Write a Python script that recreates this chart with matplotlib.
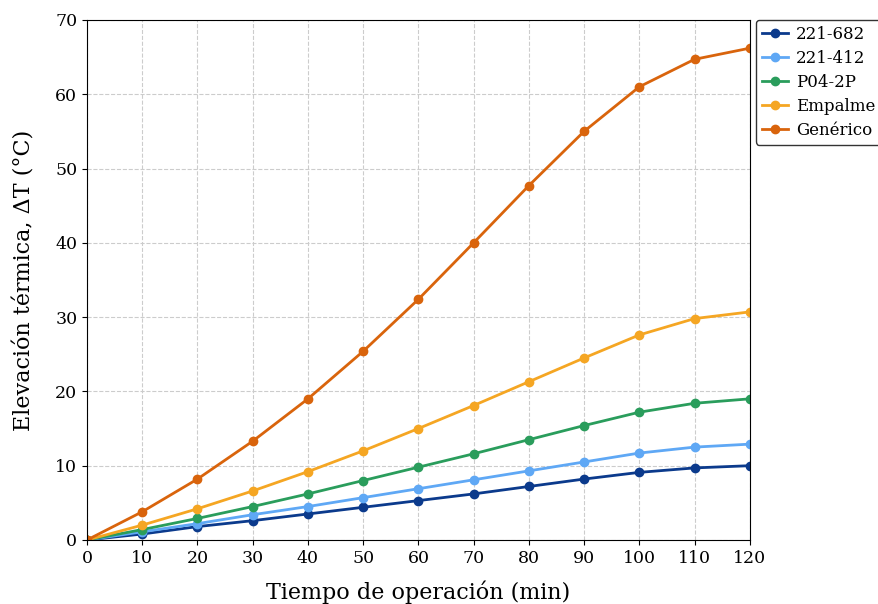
import matplotlib
matplotlib.use("Agg")
import matplotlib.pyplot as plt

plt.rcParams['font.family'] = ['DejaVu Serif']

tiempo = [0, 10, 20, 30, 40, 50, 60, 70, 80, 90, 100, 110, 120]
series_names = ['221-682', '221-412', 'P04-2P', 'Empalme', 'Genérico']
d_221_682 = [0, 0.8, 1.8, 2.6, 3.5, 4.4, 5.3, 6.2, 7.2, 8.2, 9.1, 9.7, 10.0]
d_221_412 = [0, 1.1, 2.2, 3.4, 4.5, 5.7, 6.9, 8.1, 9.3, 10.5, 11.7, 12.5, 12.9]
d_p04_2p = [0, 1.4, 2.9, 4.5, 6.2, 8.0, 9.8, 11.6, 13.5, 15.4, 17.2, 18.4, 19.0]
d_empalme = [0, 2.0, 4.2, 6.6, 9.2, 12.0, 15.0, 18.1, 21.3, 24.5, 27.6, 29.8, 30.7]
d_generico = [0, 3.8, 8.2, 13.3, 19.0, 25.4, 32.4, 40.0, 47.7, 55.0, 61.0, 64.7, 66.2]
colors = ['#0b3a8c', '#5fa8f5', '#2a9d5c', '#f5a623', '#d9640c']

fig = plt.figure(figsize=(8.79, 6.04), dpi=100)
ax = fig.add_axes([0.099, 0.106, 0.754, 0.861])

for name, vals, c in zip(series_names,
                         [d_221_682, d_221_412, d_p04_2p, d_empalme, d_generico],
                         colors):
    ax.plot(tiempo, vals, '-o', color=c, lw=2, ms=6, label=name)

ax.set_xlim(0, 120)
ax.set_ylim(0, 70)
ax.set_xticks(range(0, 121, 10))
ax.set_yticks(range(0, 71, 10))
ax.tick_params(labelsize=12.5)
ax.grid(True, ls='--', color='#cccccc', lw=0.8)
ax.set_axisbelow(True)
ax.set_xlabel('Tiempo de operación (min)', fontsize=16, labelpad=10)
ax.set_ylabel('Elevación térmica, ΔT (°C)', fontsize=16, labelpad=14)

leg = ax.legend(loc='upper left', bbox_to_anchor=(1.009, 1.0), borderaxespad=0,
                fontsize=12, frameon=True, fancybox=True, edgecolor='black',
                handlelength=1.6, handletextpad=0.45, borderpad=0.35,
                labelspacing=0.42)
leg.get_frame().set_linewidth(1.0)

fig.savefig('out.png', dpi=100)
